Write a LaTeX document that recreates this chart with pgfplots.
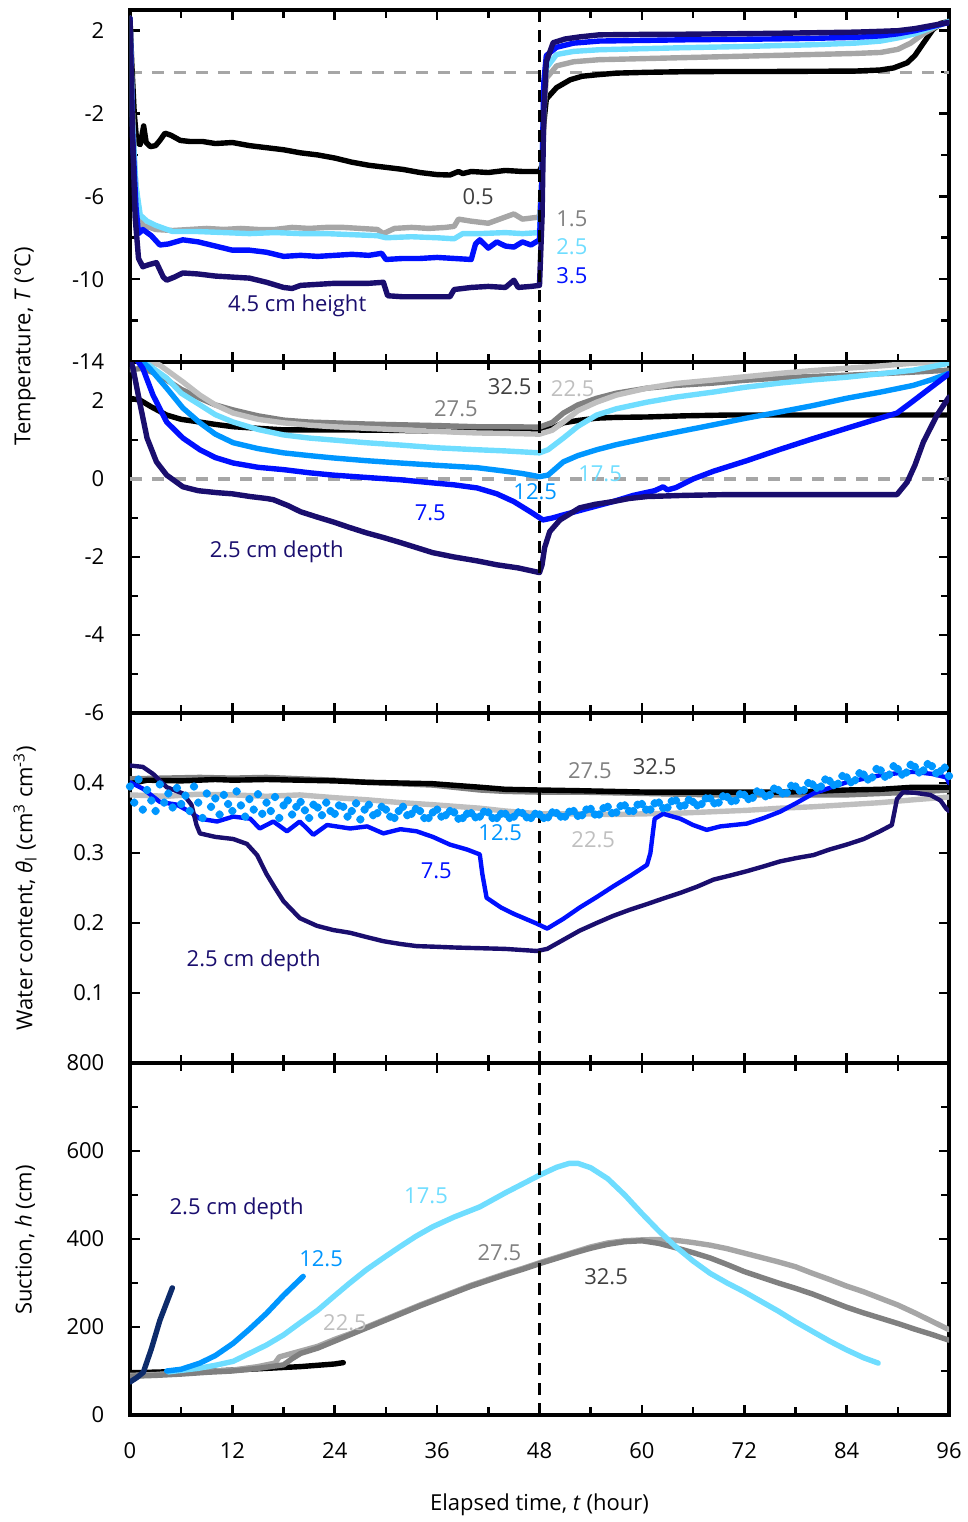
\documentclass[border=0pt]{standalone}
\usepackage{fontspec}
\setmainfont{Open Sans}
\usepackage{pgfplots}
\pgfplotsset{compat=1.18}

% series colours
\definecolor{navy}{HTML}{1A0E6E}
\definecolor{navyb}{HTML}{0D2B6B}
\definecolor{pblue}{HTML}{0010FF}
\definecolor{mblue}{HTML}{0096FF}
\definecolor{cyanl}{HTML}{6FDDFF}
\definecolor{grayA}{HTML}{A6A6A6}
\definecolor{grayL}{HTML}{BFBFBF}
\definecolor{grayM}{HTML}{808080}
\definecolor{grayD}{HTML}{404040}

\pgfplotsset{
  panel/.style={
    scale only axis, width=409.5pt,
    xmin=0, xmax=96,
    xtick={0,12,...,96}, minor xtick={6,18,...,90},
    tick align=inside, xtick pos=both, ytick pos=both,
    major tick length=5pt, minor tick length=4pt,
    every major tick/.style={black, line width=1.3pt},
    every minor tick/.style={black, line width=1.3pt},
    axis line style={line width=1.6pt},
    /pgf/number format/assume math mode=true,
    yticklabel style={xshift=-9pt},
    xticklabel style={yshift=-10pt},
    every axis plot/.append style={line width=2.7pt, line join=round, line cap=round},
    anchor=south west,
  },
  zero/.style={grayA, line width=1.6pt, dash pattern=on 6pt off 5pt, line cap=butt},
  tcut/.style={black, line width=1.5pt, dash pattern=on 6pt off 4pt, line cap=butt},
}

\begin{document}
\fontsize{11}{13}\selectfont
\begin{tikzpicture}
\path[use as bounding box] (0,0) rectangle (484pt,761pt);

% ---------------- air temperature at heights ----------------
\begin{axis}[panel, at={(65pt,580pt)}, height=176pt,
  ymin=-14, ymax=3, ytick={-14,-10,-6,-2,2}, minor ytick={-12,-8,-4,0},
  xticklabels={}]
\addplot[zero] coordinates {(0,0) (96,0)};
\addplot[black] coordinates {(0,2.6) (0.2,0.5) (0.5,-2) (0.8,-3.4) (1.2,-3.5) (1.6,-2.6) (1.9,-3.4) (2.4,-3.6) (3,-3.55) (3.5,-3.3) (4.1,-2.95) (4.8,-3.05) (5.9,-3.3) (7,-3.35) (8.5,-3.35) (10,-3.45) (12,-3.4) (14,-3.55) (16,-3.65) (18,-3.75) (20,-3.9) (22,-4.0) (24,-4.15) (26,-4.35) (28,-4.5) (30,-4.6) (32,-4.7) (34,-4.85) (36,-4.95) (37.5,-4.97) (38.5,-4.8) (39,-4.9) (40,-4.8) (42,-4.85) (44,-4.75) (46,-4.8) (48,-4.8) (48.3,-4.5) (48.5,-2.5) (48.8,-1.3) (50,-0.75) (51.6,-0.37) (53,-0.2) (54.7,-0.13) (57,-0.05) (60.6,-0.01) (65,0.02) (70,0.03) (75,0.03) (80,0.04) (85,0.05) (87.9,0.1) (89.5,0.2) (91.1,0.45) (92,0.8) (93,1.4) (94.1,2.05) (95,2.35) (96,2.45)};
\addplot[grayA] coordinates {(0,2.6) (0.3,-2) (0.6,-5) (1,-6.8) (1.5,-7.4) (2.3,-7.5) (3,-7.6) (5,-7.65) (7,-7.6) (9,-7.55) (11,-7.6) (13,-7.55) (15,-7.6) (17,-7.6) (19,-7.5) (21,-7.55) (23,-7.5) (25,-7.5) (27,-7.55) (29,-7.6) (29.7,-7.8) (31,-7.55) (33,-7.5) (35,-7.55) (37,-7.5) (38,-7.45) (38.5,-7.1) (40,-7.2) (42,-7.3) (44,-7.0) (45,-6.85) (46,-7.1) (48,-7.0) (48.3,-5) (48.5,-2) (48.8,-0.3) (50,0.3) (52,0.5) (55,0.6) (60,0.65) (65,0.7) (70,0.75) (75,0.8) (80,0.85) (85,0.9) (88,0.95) (90,1.1) (91.5,1.4) (93,1.85) (94.5,2.2) (96,2.45)};
\addplot[cyanl] coordinates {(0,2.6) (0.3,-2.5) (0.7,-5.5) (1.2,-6.9) (2,-7.2) (3,-7.4) (5,-7.7) (8,-7.7) (11,-7.75) (14,-7.8) (17,-7.75) (20,-7.8) (23,-7.8) (26,-7.85) (29,-7.9) (30,-8.0) (33,-7.95) (36,-8.0) (38,-8.05) (39,-7.8) (41,-7.8) (44,-7.75) (46,-7.8) (48,-7.75) (48.3,-5) (48.5,-1) (48.8,0.2) (50,0.85) (52,1.0) (55,1.08) (60,1.13) (65,1.18) (70,1.22) (75,1.27) (80,1.32) (85,1.4) (88,1.5) (90,1.65) (92,1.85) (94,2.15) (96,2.45)};
\addplot[pblue] coordinates {(0,2.6) (0.3,-3) (0.7,-6.5) (1,-7.8) (1.5,-7.6) (2.5,-7.9) (3.5,-8.35) (4.5,-8.3) (6.2,-8.1) (8,-8.2) (10,-8.4) (12,-8.6) (14,-8.6) (16,-8.7) (18,-8.9) (20,-8.85) (22,-8.9) (24,-8.85) (26,-8.8) (28,-8.85) (29.5,-8.75) (30,-9.05) (32,-9.0) (34,-9.0) (36,-8.95) (38,-9.0) (40,-9.05) (40.5,-8.3) (41,-8.1) (42,-8.5) (43,-8.2) (44,-8.4) (45,-8.45) (46,-8.2) (47,-8.35) (48,-8.1) (48.3,-5) (48.5,-0.5) (48.8,0.8) (50,1.2) (52,1.4) (55,1.5) (60,1.53) (65,1.56) (70,1.58) (75,1.6) (80,1.63) (85,1.68) (88,1.75) (90,1.85) (92,2.0) (94,2.2) (96,2.4)};
\addplot[navy] coordinates {(0,2.6) (0.3,-3) (0.6,-7) (1,-9) (1.5,-9.4) (2.2,-9.3) (3.1,-9.2) (3.9,-9.9) (4.3,-10.05) (5.2,-9.9) (6.2,-9.7) (8,-9.75) (10,-9.85) (12,-9.9) (14,-9.95) (16,-10.15) (18,-10.4) (19,-10.45) (20,-10.3) (22,-10.25) (24,-10.2) (26,-10.2) (28,-10.2) (29.7,-10.15) (30.2,-10.8) (32,-10.85) (34,-10.85) (36,-10.85) (37.5,-10.85) (38,-10.5) (39,-10.45) (40,-10.4) (42,-10.35) (44,-10.4) (45,-10.05) (45.5,-10.4) (47,-10.35) (48,-10.3) (48.3,-7) (48.5,-2) (48.8,0.5) (49.6,1.42) (51,1.6) (52.7,1.7) (55,1.8) (60,1.82) (65,1.83) (70,1.85) (75,1.87) (80,1.9) (85,1.93) (88,1.97) (90,2.0) (92,2.1) (94,2.25) (96,2.4)};
\addplot[tcut] coordinates {(48,-14) (48,3)};
\node[text=grayD] at (axis cs:40.8,-6.02) {0.5};
\node[text=grayM] at (axis cs:51.8,-7.09) {1.5};
\node[text=cyanl] at (axis cs:51.8,-8.44) {2.5};
\node[text=pblue] at (axis cs:51.8,-9.84) {3.5};
\node[text=navy] at (axis cs:19.6,-11.29) {4.5 cm height};
\end{axis}

% ---------------- soil temperature at depths ----------------
\begin{axis}[panel, at={(65pt,404.5pt)}, height=175.5pt,
  ymin=-6, ymax=3, ytick={-6,-4,...,2}, minor ytick={-5,-3,-1,1},
  xticklabels={}]
\addplot[zero] coordinates {(0,0) (96,0)};
\addplot[black] coordinates {(0,2.07) (1.2,2.02) (2.5,1.85) (4.3,1.64) (6,1.53) (8.2,1.46) (10,1.4) (12.1,1.34) (15,1.3) (18,1.26) (24,1.26) (30,1.25) (36,1.23) (40.7,1.21) (44,1.25) (48,1.27) (49.5,1.3) (50.8,1.44) (52.5,1.5) (54.7,1.56) (57,1.58) (60.6,1.59) (65,1.62) (70,1.64) (80,1.64) (90,1.64) (96,1.64)};
\addplot[grayM] coordinates {(0,2.8) (1.5,2.84) (3,2.7) (4.3,2.54) (6,2.3) (8.2,2.07) (10,1.9) (12.1,1.77) (15,1.62) (18,1.51) (21,1.46) (23.8,1.44) (27.7,1.41) (31.7,1.39) (36,1.37) (40.7,1.34) (44,1.34) (48,1.33) (49.5,1.45) (50.8,1.69) (52.5,1.9) (54.7,2.07) (57,2.2) (60.6,2.33) (64,2.4) (68.4,2.46) (72,2.53) (76.2,2.59) (80,2.63) (84,2.66) (88,2.7) (91.8,2.74) (96,2.79)};
\addplot[grayL] coordinates {(0,3.2) (3.5,2.92) (6.2,2.49) (8.2,2.15) (10,1.9) (12.1,1.69) (15,1.53) (18,1.44) (21,1.38) (23.8,1.34) (27.7,1.3) (31.7,1.26) (36,1.22) (40.7,1.18) (44,1.17) (48,1.15) (49.5,1.25) (50.8,1.46) (52.5,1.75) (54.7,1.97) (57,2.15) (60.6,2.33) (64,2.45) (68.4,2.54) (72,2.62) (76.2,2.71) (80,2.78) (84,2.84) (88,2.9) (91.8,2.97) (96,3.0)};
\addplot[cyanl] coordinates {(0,3.3) (2.7,2.84) (4.3,2.59) (6,2.2) (8.2,1.9) (10,1.65) (12.1,1.46) (15,1.27) (18,1.13) (21,1.05) (23.8,1.0) (27.7,0.93) (31.7,0.87) (36,0.8) (40.7,0.75) (44,0.72) (48,0.67) (49,0.75) (50.8,1.05) (52.5,1.35) (54.7,1.64) (57,1.8) (60.6,1.97) (64,2.1) (68.4,2.23) (72,2.35) (76.2,2.46) (80,2.54) (84,2.61) (88,2.7) (91.8,2.79) (94,2.88) (96,2.97)};
\addplot[mblue] coordinates {(0,3.3) (2.3,2.84) (4.3,2.33) (6.2,1.82) (8.2,1.44) (10,1.15) (12.1,0.93) (15,0.78) (18,0.67) (21,0.6) (23.8,0.54) (27.7,0.47) (31.7,0.41) (36,0.35) (40.7,0.29) (44,0.2) (46,0.14) (48,0.06) (49,0.1) (50.8,0.44) (52.5,0.6) (54.7,0.75) (57,0.88) (60.6,1.05) (64,1.2) (68.4,1.39) (72,1.55) (76.2,1.72) (80,1.88) (84,2.07) (88,2.23) (91.8,2.4) (94,2.55) (96,2.71)};
\addplot[pblue] coordinates {(0,3.3) (1.5,2.84) (2.7,2.15) (4.3,1.46) (6.2,1.05) (8.2,0.75) (10,0.55) (12.1,0.41) (15,0.3) (18,0.24) (21,0.16) (23.8,0.1) (27.7,0.04) (31.7,-0.02) (35.5,-0.1) (38,-0.15) (40.7,-0.23) (43,-0.38) (45,-0.58) (47,-0.85) (48.4,-1.05) (49.5,-1.0) (50.8,-0.92) (53.7,-0.75) (56.6,-0.58) (59,-0.42) (61.5,-0.3) (62.5,-0.2) (63,-0.28) (64,-0.22) (66,0.0) (68.4,0.2) (72.3,0.47) (76.2,0.76) (80,1.03) (84,1.3) (87,1.5) (89.9,1.69) (91.5,1.95) (93,2.2) (94.5,2.45) (96,2.7)};
\addplot[navy] coordinates {(0,3.1) (0.35,2.84) (1.2,1.9) (2,1.05) (3.1,0.44) (4.3,0.1) (6.2,-0.2) (8,-0.3) (10.2,-0.35) (12,-0.38) (14.1,-0.45) (16,-0.5) (16.8,-0.53) (18.5,-0.68) (20,-0.84) (22,-0.98) (23.8,-1.1) (25.7,-1.24) (27.7,-1.38) (29.7,-1.5) (31.7,-1.63) (33.6,-1.76) (35.5,-1.89) (38,-2.0) (40.7,-2.1) (43,-2.2) (45.5,-2.28) (48,-2.4) (48.3,-2.2) (48.6,-1.76) (49.2,-1.35) (50.4,-1.05) (52.7,-0.74) (54.5,-0.65) (56.6,-0.58) (58.5,-0.5) (60.6,-0.45) (65,-0.42) (70,-0.4) (75,-0.4) (80,-0.4) (85,-0.4) (89.9,-0.4) (91.1,-0.08) (92,0.35) (93,0.95) (94.6,1.64) (96,2.1)};
\addplot[tcut] coordinates {(48,-6) (48,3)};
\node[text=grayM] at (axis cs:38.2,1.80) {27.5};
\node[text=grayD] at (axis cs:44.5,2.36) {32.5};
\node[text=grayL] at (axis cs:51.9,2.31) {22.5};
\node[text=cyanl] at (axis cs:55.1,0.13) {17.5};
\node[text=mblue] at (axis cs:47.5,-0.33) {12.5};
\node[text=pblue] at (axis cs:35.2,-0.86) {7.5};
\node[text=navy] at (axis cs:17.2,-1.86) {2.5 cm depth};
\end{axis}

% ---------------- liquid water content ----------------
\begin{axis}[panel, at={(65pt,229.5pt)}, height=175pt,
  ymin=0, ymax=0.5, ytick={0.1,0.2,0.3,0.4},
  yticklabel style={/pgf/number format/fixed, /pgf/number format/precision=1},
  xticklabels={}]
\addplot[only marks, mark=*, mark size=0.75pt, mblue] coordinates {(0,0.395)(0.5,0.372)(1,0.405)(1.5,0.362)(2,0.39)(2.5,0.375)(3,0.36)(3.5,0.398)(4,0.372)(4.5,0.385)(5,0.365)(5.5,0.393)(6,0.37)(6.5,0.382)(7,0.36)(7.5,0.395)(8,0.372)(8.5,0.35)(9,0.385)(9.5,0.366)(10,0.378)(10.5,0.355)(11,0.383)(11.5,0.37)(12,0.36)(12.5,0.388)(13,0.368)(13.5,0.352)(14,0.377)(14.5,0.362)(15,0.384)(15.5,0.356)(16,0.372)(16.5,0.36)(17,0.38)(17.5,0.35)(18,0.368)(18.5,0.375)(19,0.355)(19.5,0.366)(20,0.373)(20.5,0.361)(21,0.35)(21.5,0.369)(22,0.365)(22.5,0.354)(23,0.372)(23.5,0.36)(24,0.356)(24.5,0.368)(25,0.366)(25.5,0.352)(26,0.36)(26.5,0.371)(27,0.348)(27.5,0.362)(28,0.369)(28.5,0.354)(29,0.357)(29.5,0.366)(30,0.362)(30.5,0.352)(31,0.35)(31.5,0.36)(32,0.366)(32.5,0.354)(33,0.356)(33.5,0.363)(34,0.36)(34.5,0.35)(35,0.35)(35.5,0.358)(36,0.362)(36.5,0.352)(37,0.354)(37.5,0.36)(38,0.358)(38.5,0.349)(39,0.35)(39.5,0.356)(40,0.357)(40.5,0.351)(41,0.352)(41.5,0.359)(42,0.358)(42.5,0.35)(43,0.35)(43.5,0.356)(44,0.356)(44.5,0.35)(45,0.352)(45.5,0.358)(46,0.357)(46.5,0.351)(47,0.35)(47.5,0.356)(48,0.355)(48.5,0.35)(49,0.351)(49.5,0.358)(50,0.357)(50.5,0.352)(51,0.352)(51.5,0.359)(52,0.36)(52.5,0.353)(53,0.354)(53.5,0.362)(54,0.363)(54.5,0.355)(55,0.355)(55.5,0.364)(56,0.366)(56.5,0.357)(57,0.358)(57.5,0.367)(58,0.368)(58.5,0.36)(59,0.36)(59.5,0.369)(60,0.37)(60.5,0.362)(61,0.362)(61.5,0.371)(62,0.372)(62.5,0.364)(63,0.365)(63.5,0.374)(64,0.375)(64.5,0.367)(65,0.368)(65.5,0.376)(66,0.373)(66.5,0.368)(67,0.37)(67.5,0.378)(68,0.378)(68.5,0.371)(69,0.372)(69.5,0.381)(70,0.38)(70.5,0.374)(71,0.375)(71.5,0.384)(72,0.383)(72.5,0.377)(73,0.379)(73.5,0.388)(74,0.386)(74.5,0.381)(75,0.383)(75.5,0.392)(76,0.39)(76.5,0.385)(77,0.386)(77.5,0.396)(78,0.395)(78.5,0.389)(79,0.39)(79.5,0.4)(80,0.398)(80.5,0.393)(81,0.395)(81.5,0.405)(82,0.403)(82.5,0.397)(83,0.399)(83.5,0.41)(84,0.408)(84.5,0.401)(85,0.404)(85.5,0.414)(86,0.412)(86.5,0.405)(87,0.408)(87.5,0.42)(88,0.418)(88.5,0.409)(89,0.412)(89.5,0.424)(90,0.42)(90.5,0.412)(91,0.415)(91.5,0.426)(92,0.423)(92.5,0.415)(93,0.418)(93.5,0.427)(94,0.424)(94.5,0.414)(95,0.417)(95.5,0.422)(96,0.41)};
\addplot[grayL] coordinates {(0,0.383) (4.3,0.381) (8,0.384) (12.1,0.383) (16,0.381) (19.9,0.383) (24,0.379) (27.8,0.376) (31.7,0.372) (35.5,0.369) (41,0.364) (44,0.36) (48,0.356) (52.7,0.356) (56.6,0.355) (60.6,0.356) (64.5,0.357) (68.4,0.359) (72.3,0.361) (76.2,0.364) (80,0.366) (84,0.369) (88,0.372) (91.8,0.376) (96,0.38)};
\addplot[grayM] coordinates {(0,0.406) (4,0.407) (8.2,0.408) (12,0.407) (16,0.408) (19.9,0.406) (24,0.404) (27.8,0.401) (31.7,0.399) (35.5,0.397) (41,0.39) (44,0.388) (48,0.387) (52.7,0.387) (56.6,0.386) (60.6,0.385) (64.5,0.384) (68.4,0.383) (72.3,0.383) (76.2,0.383) (80,0.383) (84,0.383) (88,0.385) (91.8,0.387) (96,0.39)};
\addplot[black] coordinates {(0,0.399) (2,0.404) (6,0.403) (10,0.405) (12.1,0.404) (16,0.405) (19.9,0.404) (24,0.403) (27.8,0.401) (31.7,0.4) (35.5,0.399) (41,0.394) (44,0.391) (48,0.39) (52.7,0.389) (56.6,0.388) (60.6,0.387) (64.5,0.387) (68.4,0.387) (72.3,0.387) (76.2,0.387) (80,0.388) (84,0.39) (88,0.391) (91.8,0.394) (96,0.394)};
\addplot[pblue, line width=2.2pt] coordinates {(0,0.401) (1.5,0.392) (3.5,0.373) (5.5,0.369) (7,0.359) (8.2,0.349) (10.2,0.345) (12.1,0.352) (14.1,0.349) (15.2,0.335) (16.8,0.345) (18.4,0.331) (19.9,0.345) (21.5,0.326) (23.1,0.34) (25.8,0.335) (27.8,0.338) (29.7,0.328) (31.7,0.334) (33.6,0.331) (35.5,0.323) (37.5,0.312) (39.5,0.305) (41,0.298) (41.3,0.27) (41.8,0.236) (43.5,0.222) (45,0.213) (47.7,0.199) (48.9,0.192) (50.8,0.206) (52.7,0.222) (54.7,0.237) (56.6,0.252) (58.6,0.267) (60.6,0.283) (61,0.3) (61.3,0.33) (61.5,0.349) (62.5,0.356) (64.5,0.349) (66,0.34) (67.6,0.333) (69.2,0.338) (72.3,0.342) (74.3,0.35) (76.2,0.359) (78.2,0.372) (80.1,0.385) (82,0.393) (84,0.401) (86,0.406) (87.9,0.411) (90,0.414) (91.8,0.416) (94,0.413) (95.7,0.408) (96,0.4)};
\addplot[navy, line width=2.2pt] coordinates {(0,0.425) (1.5,0.423) (2.7,0.413) (4.3,0.394) (6.2,0.385) (7.2,0.369) (7.8,0.34) (8.2,0.328) (10,0.323) (12.1,0.32) (13.7,0.313) (14.9,0.297) (16,0.27) (17,0.25) (18,0.231) (19.9,0.207) (21.9,0.196) (23.8,0.19) (25.8,0.186) (27.7,0.18) (29.7,0.174) (31.7,0.17) (33.6,0.167) (36,0.166) (38,0.165) (41,0.164) (44,0.163) (47.7,0.16) (48.9,0.163) (50.8,0.176) (52.7,0.189) (54.7,0.2) (56.6,0.21) (58.6,0.219) (60.6,0.227) (62.5,0.235) (64.5,0.243) (66.5,0.252) (68.4,0.262) (70.4,0.268) (72.3,0.274) (74.3,0.281) (76.2,0.288) (78.2,0.293) (80.1,0.297) (82,0.305) (84,0.312) (86,0.32) (87.9,0.331) (89.3,0.34) (89.9,0.377) (90.6,0.387) (92,0.386) (93.8,0.383) (95,0.375) (95.7,0.363) (96,0.36)};
\addplot[tcut] coordinates {(48,0) (48,0.5)};
\node[text=grayM] at (axis cs:53.9,0.417) {27.5};
\node[text=grayD] at (axis cs:61.5,0.423) {32.5};
\node[text=mblue] at (axis cs:43.4,0.329) {12.5};
\node[text=grayL] at (axis cs:54.3,0.319) {22.5};
\node[text=pblue] at (axis cs:35.9,0.274) {7.5};
\node[text=navy] at (axis cs:14.5,0.146) {2.5 cm depth};
\end{axis}

% ---------------- soil water suction ----------------
\begin{axis}[panel, at={(65pt,53.5pt)}, height=176pt,
  ymin=0, ymax=800, ytick={0,200,...,800}, minor ytick={100,300,500,700}]
\addplot[black] coordinates {(0,96) (2,97) (4,98) (6,98) (8,100) (10,100) (12,102) (14,104) (16,106) (18,108) (20,110) (22,113) (24,116) (25,119)};
\addplot[grayA] coordinates {(0,90) (3,92) (6,96) (9,99) (12,102) (15,110) (17,118) (17.5,132) (19,140) (22,156) (24,172) (26,186) (28,202) (30,218) (32,234) (34,250) (36,265) (38,280) (40,295) (42,308) (44,321) (46,333) (48,346) (50,358) (52,370) (54,382) (56,391) (58,396) (60,398) (62,399) (64,397) (66,392) (68,386) (70,378) (72,368) (74,358) (76,348) (78,337) (80,322) (82,308) (84,293) (86,280) (88,265) (90,250) (92,232) (94,213) (96,194)};
\addplot[grayM] coordinates {(0,88) (3,90) (6,93) (9,97) (12,100) (15,106) (18,114) (19,128) (20,140) (22,152) (24,168) (26,184) (28,200) (30,216) (32,232) (34,248) (36,263) (38,278) (40,293) (42,306) (44,319) (46,331) (48,344) (50,356) (52,368) (54,379) (56,388) (58,394) (60,396) (62,390) (64,380) (66,369) (68,357) (70,342) (72,326) (74,313) (76,300) (78,288) (80,275) (82,260) (84,245) (86,232) (88,220) (90,208) (92,195) (94,183) (96,170)};
\addplot[cyanl] coordinates {(4.5,98) (8,106) (10,113) (12.1,122) (14,140) (16,159) (18,182) (19.9,209) (22,238) (23.8,268) (25.7,299) (27.7,330) (29.7,357) (31.6,382) (33.5,406) (35.5,428) (38,450) (41,473) (44,505) (46,525) (48,545) (50,563) (51.5,572) (52.5,572) (54,562) (56,537) (58,500) (60,458) (62,418) (64,382) (66,350) (68,322) (70,300) (72,280) (74,258) (76,236) (78,212) (80,190) (82,168) (84,148) (86,130) (87.7,118)};
\addplot[mblue] coordinates {(4.3,100) (6,104) (8.2,118) (10,135) (12.1,163) (14,195) (16,231) (18,272) (20.3,315)};
\addplot[navyb] coordinates {(0,75) (0.8,85) (1.56,97) (2.5,150) (3.5,215) (4.96,289)};
\addplot[tcut] coordinates {(48,0) (48,800)};
\node[text=navy] at (axis cs:12.5,468) {2.5 cm depth};
\node[text=mblue] at (axis cs:22.4,355) {12.5};
\node[text=cyanl] at (axis cs:34.7,498) {17.5};
\node[text=grayM] at (axis cs:43.3,368) {27.5};
\node[text=grayL] at (axis cs:25.2,209) {22.5};
\node[text=grayD] at (axis cs:55.8,314) {32.5};
\end{axis}

% axis titles
\node[rotate=90] at (12.5pt,588pt) {Temperature, \textit{T} (°C)};
\node[rotate=90] at (12.5pt,317pt) {Water content, \textit{θ}\textsubscript{l} (cm\textsuperscript{3} cm\textsuperscript{-3})};
\node[rotate=90] at (12.5pt,141pt) {Suction, \textit{h} (cm)};
\node at (269.75pt,8.5pt) {Elapsed time, \textit{t} (hour)};
\end{tikzpicture}
\end{document}
